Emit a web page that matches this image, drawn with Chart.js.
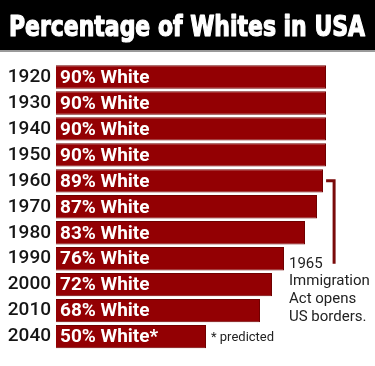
<!DOCTYPE html>
<html>
<head>
<meta charset="utf-8">
<script src="https://cdn.jsdelivr.net/npm/chart.js@4.4.1/dist/chart.umd.min.js"></script>
<style>
    html, body { margin: 0; padding: 0; background: #fff; }
    #wrap { width: 375px; height: 366px; position: relative; }
</style>
</head>
<body>
<div id="wrap"><canvas id="myChart"></canvas></div>
<script>
const years = ['1920', '1930', '1940', '1950', '1960', '1970', '1980', '1990', '2000', '2010', '2040'];
const whitePct = [90, 90, 90, 90, 89, 87, 83, 76, 72, 68, 50];
const notes = ['', '', '', '', '', '', '', '', '', '', '*'];
const titleText = 'Percentage of Whites in USA';
const actLines = ['1965', 'Immigration', 'Act opens', 'US borders.'];
const predictedText = '* predicted';

const barRed = '#930003';

// black title band on top
const titleBand = {
    id: 'titleBand',
    beforeDraw(chart) {
        const ctx = chart.ctx;
        ctx.save();
        ctx.fillStyle = '#000';
        ctx.fillRect(0, 0, chart.width, 50);
        ctx.fillStyle = '#9a9a9a';
        ctx.fillRect(0, 50, chart.width, 2);
        ctx.font = 'bold 28px "Liberation Sans Narrow", "DejaVu Sans Condensed", sans-serif';
        const w = ctx.measureText(titleText).width;
        const target = 356;
        ctx.translate(9, 36);
        ctx.scale(target / w, 1);
        ctx.fillStyle = '#fff';
        ctx.strokeStyle = '#fff';
        ctx.lineWidth = 1.2;
        ctx.lineJoin = 'round';
        ctx.textBaseline = 'alphabetic';
        ctx.fillText(titleText, 0, 0);
        ctx.strokeText(titleText, 0, 0); // heavier, poster-like look
        ctx.restore();
    }
};

// "90% White" text inside bars + notes on the right
const barText = {
    id: 'barText',
    afterDatasetsDraw(chart) {
        const ctx = chart.ctx;
        const meta = chart.getDatasetMeta(0);
        const x = chart.scales.x;
        const y = chart.scales.y;
        ctx.save();
        ctx.font = 'bold 19px Roboto, sans-serif';
        ctx.fillStyle = '#fff';
        ctx.textBaseline = 'middle';
        ctx.textAlign = 'left';
        meta.data.forEach((bar, i) => {
            ctx.fillText(whitePct[i] + '% White' + notes[i], bar.base + 4, bar.y + 1);
        });

        // predicted note
        const last = meta.data[meta.data.length - 1];
        ctx.font = '13px Roboto, sans-serif';
        ctx.fillStyle = '#222';
        ctx.fillText(predictedText, last.x + 5, last.y + 1);

        // bracket
        const bx = x.getPixelForValue(92.7);
        const top = y.getPixelForValue(4);
        const bottom = y.getPixelForValue(7) + 5;
        ctx.strokeStyle = '#7a0a0a';
        ctx.lineWidth = 3;
        ctx.beginPath();
        ctx.moveTo(bx - 8, top);
        ctx.lineTo(bx, top);
        ctx.lineTo(bx, bottom);
        ctx.stroke();

        // immigration act text, right of the 1990 bar
        ctx.font = '15px Roboto, sans-serif';
        ctx.fillStyle = '#222';
        ctx.textBaseline = 'alphabetic';
        const tx = meta.data[7].x + 5;
        let ty = y.getPixelForValue(7) + 9;
        actLines.forEach(line => {
            ctx.fillText(line, tx, ty);
            ty += 17.6;
        });
        ctx.restore();
    }
};

const ctx = document.getElementById('myChart').getContext('2d');
const myChart = new Chart(ctx, {
    type: 'bar',
    data: {
        labels: years,
        datasets: [{
            data: whitePct,
            backgroundColor: barRed,
            borderColor: '#6f0000',
            borderWidth: 1,
            categoryPercentage: 1.0,
            barPercentage: 0.9
        }]
    },
    options: {
        indexAxis: 'y',
        responsive: true,
        maintainAspectRatio: false,
        animation: false,
        layout: {
            padding: { top: 64, bottom: 7, left: 6, right: 19 }
        },
        scales: {
            x: {
                display: false,
                min: 0,
                max: 100
            },
            y: {
                grid: { display: false, drawTicks: false },
                border: { display: false },
                ticks: {
                    color: '#151515',
                    padding: 5,
                    font: { family: 'Roboto', size: 19, weight: '500' }
                },
                afterFit(scale) { scale.width = 50; }
            }
        },
        plugins: {
            legend: { display: false },
            tooltip: { enabled: false }
        }
    },
    plugins: [titleBand, barText]
});
</script>
</body>
</html>
